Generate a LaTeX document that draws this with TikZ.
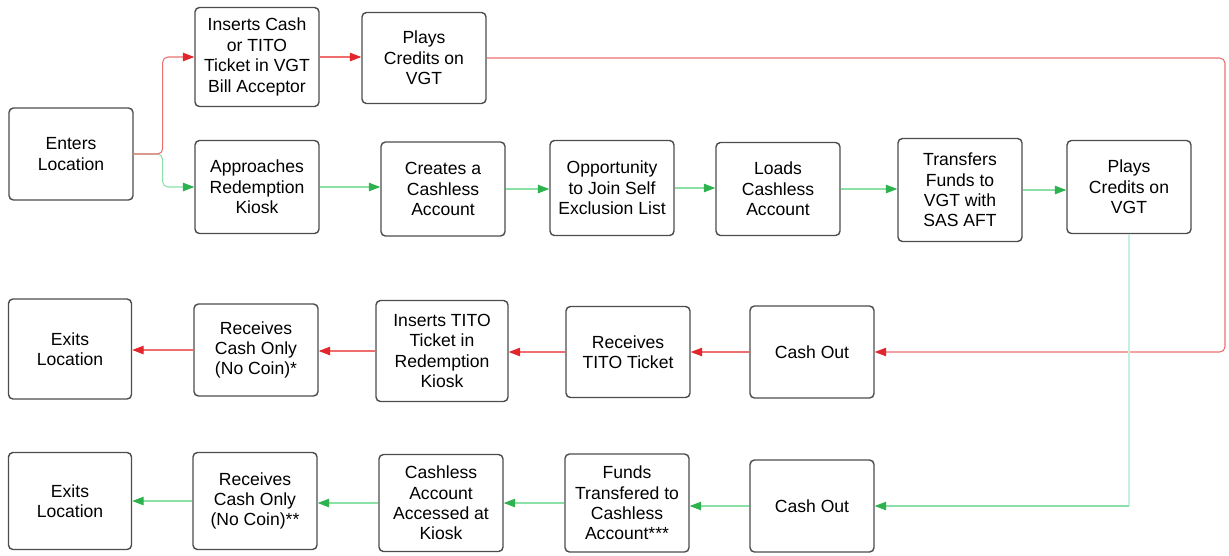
\documentclass[tikz,border=0pt]{standalone}
\usepackage{fontspec}
\setmainfont{Liberation Sans}
\usepackage{xcolor}
\usepackage{tikz}
\usetikzlibrary{arrows.meta}
\definecolor{flowred}{HTML}{EE6E6E}
\definecolor{tipred}{HTML}{E3262B}
\definecolor{flowgreen}{HTML}{8BE0A8}
\definecolor{tipgreen}{HTML}{2DB24F}
\definecolor{flowmint}{HTML}{C6EEE2}
\tikzset{
  stepbox/.style={draw=black!70, line width=0.8pt, rounded corners=2.5pt, align=center,
    minimum width=2.48cm, minimum height=1.84cm, inner sep=2pt},
  redflow/.style={draw=flowred, line width=0.6pt, rounded corners=3pt,
    -{Triangle[length=2.3mm, width=1.7mm, color=tipred]}},
  greenflow/.style={draw=flowgreen, line width=0.6pt, rounded corners=3pt,
    -{Triangle[length=2.3mm, width=1.7mm, color=tipgreen]}},
  mintflow/.style={draw=flowmint, line width=0.6pt},
}

\begin{document}
\begin{tikzpicture}[x=0.02cm, y=-0.02cm, font=\fontsize{10}{11.6}\selectfont]
  \useasboundingbox (0,0) rectangle (1229,555);

  % top rows
  \node[stepbox] (enter) at (71,154) {Enters\\Location};
  \node[stepbox, minimum height=1.98cm] (insert) at (257,57) {Inserts Cash\\or TITO\\Ticket in VGT\\Bill Acceptor};
  \node[stepbox, minimum height=1.82cm] (playtop) at (424,58) {Plays\\Credits on\\VGT};

  \node[stepbox, minimum height=1.86cm] (kiosk) at (257,187) {Approaches\\Redemption\\Kiosk};
  \node[stepbox, minimum height=1.88cm] (create) at (443,189) {Creates a\\Cashless\\Account};
  \node[stepbox, minimum height=1.90cm] (exclude) at (612,188) {Opportunity\\to Join Self\\Exclusion List};
  \node[stepbox, minimum height=1.86cm] (load) at (778,189) {Loads\\Cashless\\Account};
  \node[stepbox, minimum height=2.06cm] (transfer) at (960,190) {Transfers\\Funds to\\VGT with\\SAS AFT};
  \node[stepbox, minimum height=1.86cm] (playright) at (1129,187) {Plays\\Credits on\\VGT};

  % ticket row
  \node[stepbox] (cashred) at (812,352) {Cash Out};
  \node[stepbox, minimum height=1.82cm] (tito) at (628,352) {Receives\\TITO Ticket};
  \node[stepbox, minimum width=2.64cm, minimum height=2.02cm] (titokiosk) at (442,351) {Inserts TITO\\Ticket in\\Redemption\\Kiosk};
  \node[stepbox] (cashonly) at (256,350) {Receives\\Cash Only\\(No Coin)*};
  \node[stepbox, minimum width=2.46cm, minimum height=2cm] (exitred) at (70,349) {Exits\\Location};

  % cashless row
  \node[stepbox] (cashgreen) at (812,506) {Cash Out};
  \node[stepbox, minimum height=1.96cm] (funds) at (627,503) {Funds\\Transfered to\\Cashless\\Account***};
  \node[stepbox, minimum height=1.94cm] (access) at (441,503) {Cashless\\Account\\Accessed at\\Kiosk};
  \node[stepbox, minimum height=1.94cm] (cashonlyb) at (255,501) {Receives\\Cash Only\\(No Coin)**};
  \node[stepbox, minimum width=2.46cm, minimum height=1.94cm] (exitgreen) at (70,501) {Exits\\Location};

  \coordinate (redturn) at (1225,352);
  \coordinate (greenturn) at (1129,506);

  % connectors
  \draw[greenflow] (enter.east) -- ++(29,0) |- (kiosk.west);
  \draw[redflow] (enter.east) -- ++(29,0) |- (insert.west);
  \draw[redflow] (insert) -- (insert -| playtop.west);
  \draw[redflow] (playtop.east) -| (redturn) -- (cashred.east);

  \draw[greenflow] (kiosk) -- (kiosk -| create.west);
  \draw[greenflow] (create) -- (create -| exclude.west);
  \draw[greenflow] (exclude) -- (exclude -| load.west);
  \draw[greenflow] (load) -- (load -| transfer.west);
  \draw[greenflow] (transfer) -- (transfer -| playright.west);
  \draw[mintflow] (playright.south) -- (greenturn);
  \draw[greenflow] (greenturn) -- (cashgreen.east);

  \draw[redflow] (cashred) -- (cashred -| tito.east);
  \draw[redflow] (tito) -- (tito -| titokiosk.east);
  \draw[redflow] (titokiosk) -- (titokiosk -| cashonly.east);
  \draw[redflow] (cashonly) -- (cashonly -| exitred.east);

  \draw[greenflow] (cashgreen) -- (cashgreen -| funds.east);
  \draw[greenflow] (funds) -- (funds -| access.east);
  \draw[greenflow] (access) -- (access -| cashonlyb.east);
  \draw[greenflow] (cashonlyb) -- (cashonlyb -| exitgreen.east);
\end{tikzpicture}
\end{document}
